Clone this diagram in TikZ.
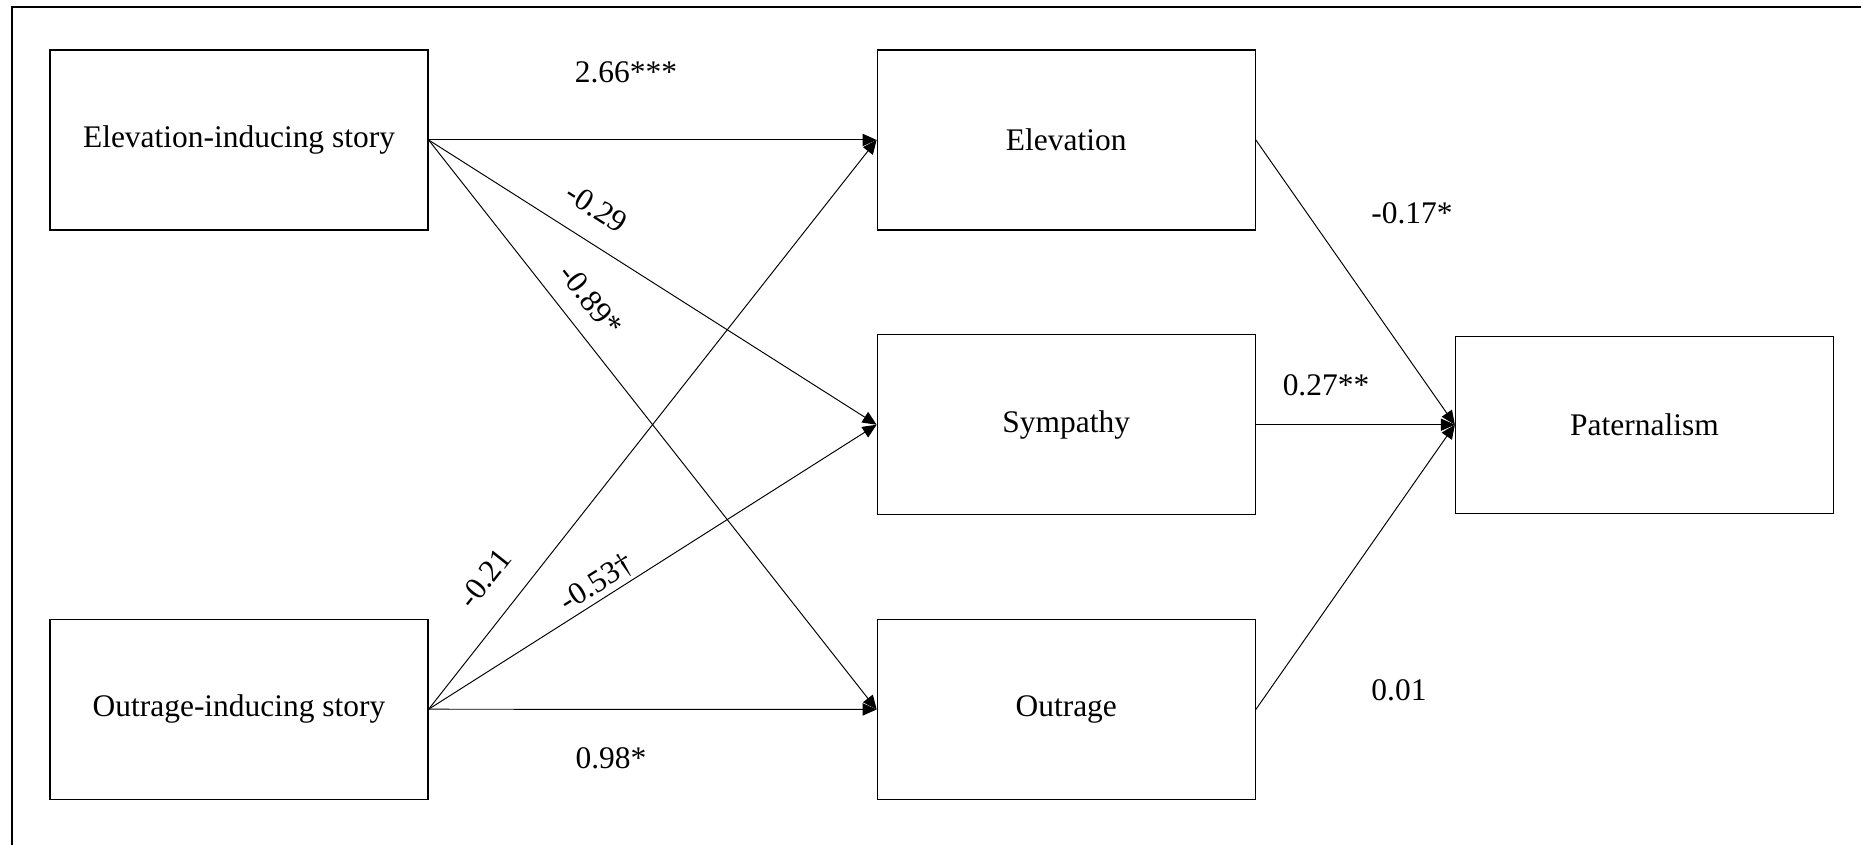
\documentclass[tikz,border=0pt]{standalone}
\usepackage{fontspec}
\setmainfont{Liberation Serif}
\usetikzlibrary{arrows.meta,positioning}

\begin{document}
\begin{tikzpicture}[
  vbox/.style={draw, line width=0.7pt, minimum width=7.56cm, minimum height=3.6cm,
               align=center, font=\fontsize{17.9}{21}\selectfont},
  path/.style={-{Triangle[length=8pt, width=7pt]}, line width=0.55pt},
  coef/.style={font=\fontsize{17.9}{21}\selectfont, inner sep=1pt}
]
  \useasboundingbox (0,0) rectangle (37.22,16.9);
  \draw[line width=1.4pt] (0.24,0) -- (0.24,16.76) -- (37.22,16.76);

  \node[vbox] (eis) at (4.78,14.10) {Elevation-inducing story};
  \node[vbox, below=7.76cm of eis] (ois) {Outrage-inducing story};
  \node[vbox, right=8.96cm of eis] (elev) {Elevation};
  \node[vbox, below=2.07cm of elev] (symp) {Sympathy};
  \node[vbox, below=2.07cm of symp] (outr) {Outrage};
  \node[vbox, right=3.98cm of symp, minimum height=3.54cm] (pat) {Paternalism};

  \draw[path] (eis.east) -- (elev.west);
  \draw[path] (eis.east) -- (symp.west);
  \draw[path] (eis.east) -- (outr.west);
  \draw[path] (ois.east) -- (elev.west);
  \draw[path] (ois.east) -- (symp.west);
  \draw[path] (ois.east) -- (outr.west);
  \draw[path] (elev.east) -- (pat.west);
  \draw[path] (symp.east) -- (pat.west);
  \draw[path] (outr.east) -- (pat.west);

  % path coefficients
  \node[coef] (c1) at (12.52,15.46) {2.66***};
  \node[coef, rotate=-32.7] (c2) at (11.94,12.74) {-0.29};
  \node[coef, rotate=-51.8] (c3) at (11.82,10.90) {-0.89*};
  \node[coef, rotate=51.6] (c4) at (9.70,5.34) {-0.21};
  \node[coef, rotate=32] (c5) at (11.94,5.24) {-0.53†};
  \node[coef] (c6) at (12.22,1.74) {0.98*};
  \node[coef] (c7) at (28.24,12.64) {-0.17*};
  \node[coef] (c8) at (26.52,9.20) {0.27**};
  \node[coef] (c9) at (27.98,3.10) {0.01};
\end{tikzpicture}
\end{document}
